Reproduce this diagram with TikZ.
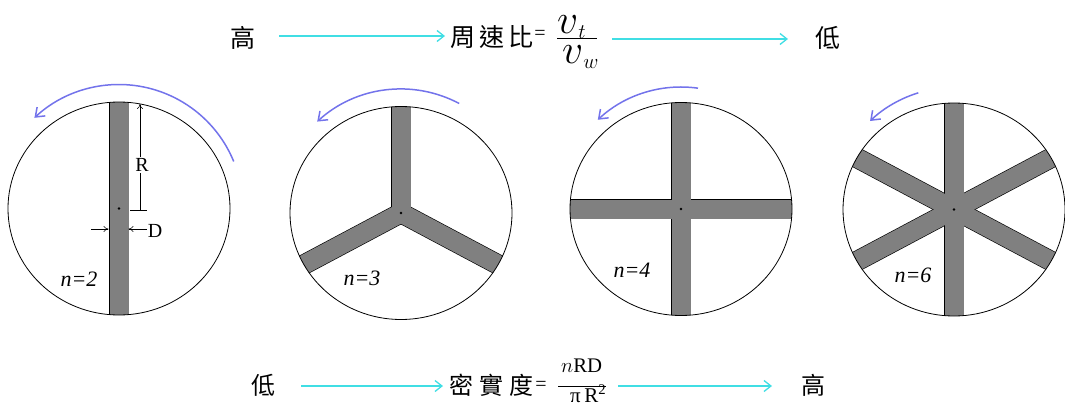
\documentclass[tikz,border=0pt]{standalone}
\usepackage{fontspec}
\setmainfont{Liberation Serif}
\newfontfamily\cjk{Noto Sans CJK TC}
\usetikzlibrary{arrows.meta,calc}
\definecolor{turq}{RGB}{64,222,228}
\definecolor{rotblue}{RGB}{115,115,235}
\definecolor{bladegray}{RGB}{128,128,128}
\newcommand\drawrotor[2]{%
  \begin{scope}
    \clip (#1) ellipse [x radius=111, y radius=106.5];
    \foreach \a in {#2} \draw[line width=1.3pt, shift={(#1)}, rotate=\a] (0,-9.5) rectangle (140,9.5);
    \foreach \a in {#2} \fill[bladegray, shift={(#1)}, rotate=\a] (0,-9.5) rectangle (140,9.5);
  \end{scope}
  \draw[rim] (#1) ellipse [x radius=111, y radius=106.5];
  \fill (#1) circle [radius=1.3];
}
\newcommand\bigv[1]{{\fontsize{20.74}{24}\selectfont\scalebox{2}{$v$}\raisebox{-5pt}{$#1$}}}
\begin{document}
\begin{tikzpicture}[x=1pt,y=-1pt,
  cjktext/.style={font=\cjk\fontsize{25}{30}\selectfont, inner sep=0},
  cjkbot/.style={font=\cjk\fontsize{24}{30}\selectfont, inner sep=0},
  flow/.style={draw=turq, line width=1.3pt, -{Straight Barb[length=7pt,width=11pt]}},
  spin/.style={draw=rotblue, line width=1.5pt, -{Straight Barb[length=8pt,width=12pt]}},
  rim/.style={draw=black, line width=0.8pt},
  nlabel/.style={font=\fontsize{22}{24}\selectfont\itshape, inner sep=0},
  dimlabel/.style={font=\fontsize{20}{22}\selectfont, inner sep=1pt},
  dimline/.style={draw=black, line width=0.5pt},
  dimarrow/.style={dimline, -{To[length=5pt,width=6pt]}},
  fracbar/.style={draw=black, line width=0.7pt},
]
\useasboundingbox (0,0) rectangle (1065,407);

% ---------- top row ----------
\node[cjktext] (hiT) at (243,38) {高};
\coordinate (a1s) at (279,36);
\coordinate (a1e) at (445,36);
\draw[flow] (a1s) -- (a1e);
\node[cjktext, anchor=west] (ratio) at (450,37) {周\hspace{4pt}速\hspace{4pt}比};
\node[inner sep=0, font=\fontsize{20}{22}\selectfont] (eqT) at (540,35) {=};
\node[anchor=base west, inner sep=0] (numT) at (557,33) {\bigv{t}};
\node[anchor=base west, inner sep=0] (denT) at (562,63) {\bigv{w}};
\coordinate (bT1) at (557,38);
\coordinate (bT2) at (597,38);
\draw[fracbar] (bT1) -- (bT2);
\coordinate (a2s) at (612,39);
\coordinate (a2e) at (788,39);
\draw[flow] (a2s) -- (a2e);
\node[cjktext] (loT) at (828,38) {低};

% ---------- rotors ----------
\coordinate (c1) at (119,208.5);
\coordinate (c2) at (401,213);
\coordinate (c3) at (681,209);
\coordinate (c4) at (954,209.5);

\drawrotor{c1}{90,270}
\drawrotor{c2}{90,208,332}
\drawrotor{c3}{0,90,180,270}
\drawrotor{c4}{28,90,152,208,270,332}

% rotation arrows
\draw[spin] ($(c1)+(-22.3:124)$) arc[start angle=-22.3, end angle=-133, radius=124];
\draw[spin] ($(c2)+(-62:124)$) arc[start angle=-62, end angle=-132.5, radius=124];
\draw[spin] ($(c3)+(-82:122)$) arc[start angle=-82, end angle=-133, radius=122];
\draw[spin] ($(c4)+(-107:122)$) arc[start angle=-107, end angle=-133.5, radius=122];

% dimensions on first rotor
\coordinate (rTop) at (140,104);
\coordinate (rBot) at (140,210);
\coordinate (tk1) at (130,210);
\coordinate (tk2) at (147,210);
\draw[dimarrow] (rBot) -- (rTop);
\draw[dimline] (tk1) -- (tk2);
\node[dimlabel, fill=white] (Rlab) at (142,165) {R};
\coordinate (dL1) at (91,229);
\coordinate (dL2) at (108.5,229);
\coordinate (dR1) at (147,229);
\coordinate (dR2) at (128.5,229);
\draw[dimarrow] (dL1) -- (dL2);
\draw[dimarrow] (dR1) -- (dR2);
\node[dimlabel] (Dlab) at (155,231) {D};

% blade count labels
\node[nlabel] (n2) at (79,279) {n=2};
\node[nlabel] (n3) at (362,278) {n=3};
\node[nlabel] (n4) at (632,270) {n=4};
\node[nlabel] (n6) at (913,275) {n=6};

% ---------- bottom row ----------
\node[cjkbot] (loB) at (263,385) {低};
\coordinate (b1s) at (301,386);
\coordinate (b1e) at (443,386);
\draw[flow] (b1s) -- (b1e);
\node[cjkbot, anchor=west] (solid) at (449,385) {密\hspace{6pt}實\hspace{6pt}度};
\node[inner sep=0, font=\fontsize{20}{22}\selectfont] (eqB) at (541,386) {=};
\node[anchor=base west, inner sep=0] (numB) at (561,372) {\fontsize{20.74}{24}\selectfont$n$RD};
\node[anchor=base west, inner sep=0] (denB) at (570,402) {\fontsize{21}{24}\selectfont π\,R\textsuperscript{2}};
\coordinate (bB1) at (558,386);
\coordinate (bB2) at (606,386);
\draw[fracbar] (bB1) -- (bB2);
\coordinate (b2s) at (618,386);
\coordinate (b2e) at (772,386);
\draw[flow] (b2s) -- (b2e);
\node[cjkbot] (hiB) at (813,385) {高};
\end{tikzpicture}
\end{document}
